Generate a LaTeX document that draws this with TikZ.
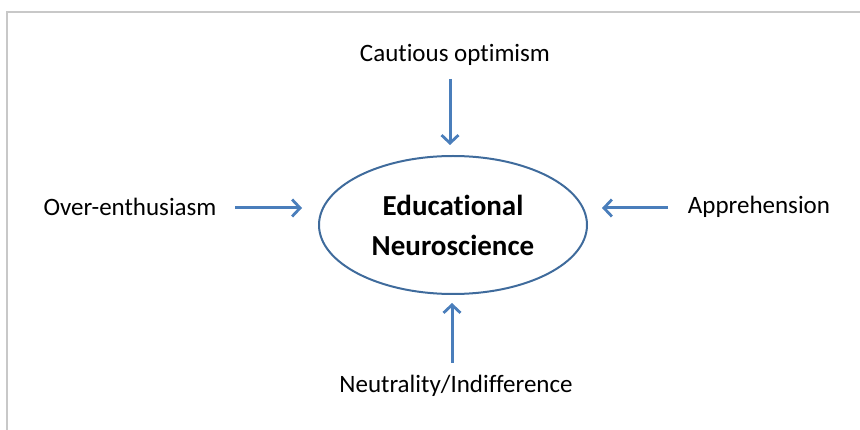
\documentclass[tikz,border=0pt]{standalone}
\usepackage{fontspec}
\setmainfont[Ligatures={NoCommon}]{Carlito}
\usetikzlibrary{arrows.meta,shapes.geometric}
\definecolor{arrowblue}{HTML}{4A7EBB}
\definecolor{ellblue}{HTML}{3F6B9C}
\definecolor{framegray}{HTML}{C8C8C8}
\begin{document}
\begin{tikzpicture}[x=1pt,y=-1pt,
  lbl/.style={font=\fontsize{25}{30}\selectfont, inner sep=0pt},
  inarrow/.style={draw=arrowblue, line width=3pt, -{Straight Barb[length=8pt,width=17pt,line width=2.8pt]}},
  core/.style={ellipse, draw=ellblue, line width=2pt, minimum width=268pt, minimum height=138pt, align=center, inner sep=0pt,
    font=\fontsize{29}{40}\selectfont\bfseries}]
\useasboundingbox (0,0) rectangle (860,430);
\draw[framegray, line width=1.5pt] (7,430) -- (7,12) -- (860,12);
\node[core] (c) at (453,225) {Educational\\Neuroscience};
\node[lbl] (top) at (455,55) {Cautious optimism};
\node[lbl] (bot) at (456,386) {Neutrality/Indifference};
\node[lbl] (left) at (130,207) {Over-enthusiasm};
\node[lbl] (right) at (759,207) {Apprehension};
\coordinate (ts) at (450,79);
\coordinate (te) at (450,145);
\coordinate (bs) at (452,363);
\coordinate (be) at (452,303);
\coordinate (ls) at (235,208);
\coordinate (le) at (302,208);
\coordinate (rs) at (668,208);
\coordinate (re) at (602,208);
\draw[inarrow] (ts) -- (te);
\draw[inarrow] (bs) -- (be);
\draw[inarrow] (ls) -- (le);
\draw[inarrow] (rs) -- (re);
\end{tikzpicture}
\end{document}
